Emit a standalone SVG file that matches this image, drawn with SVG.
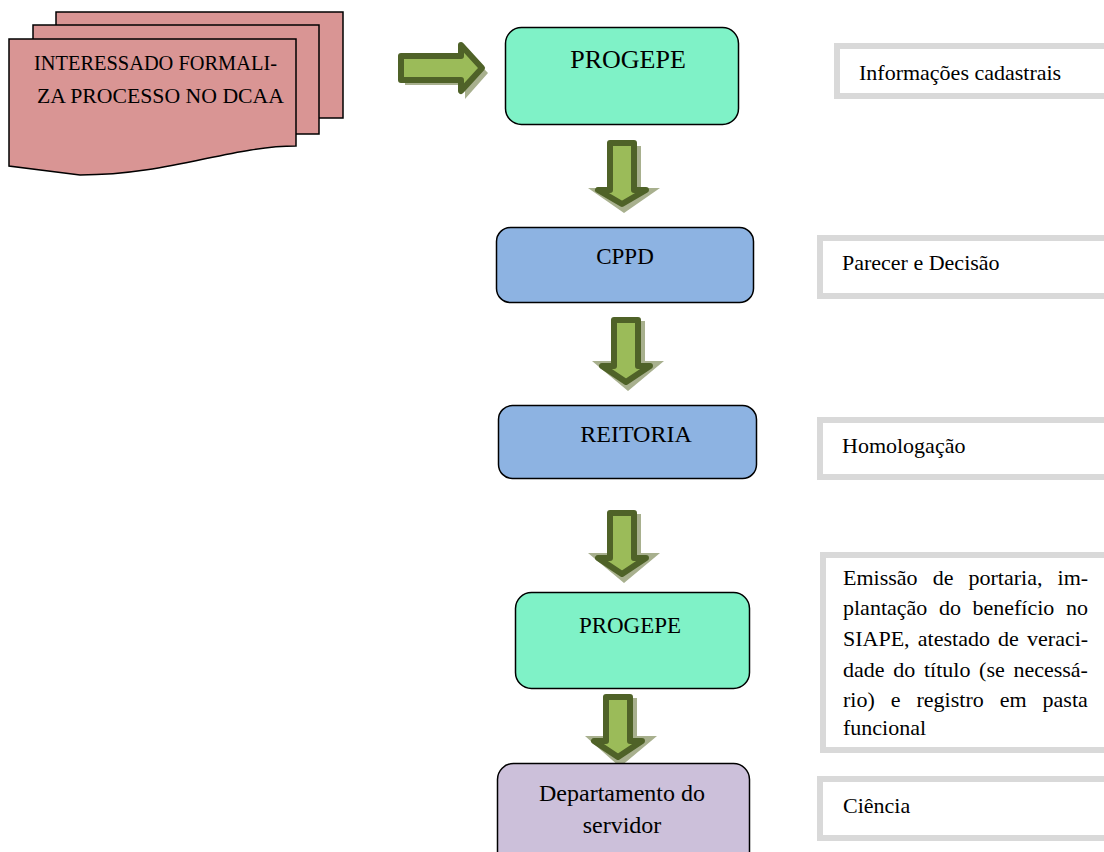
<svg xmlns="http://www.w3.org/2000/svg" width="1104" height="852" viewBox="0 0 1104 852" font-family="'Liberation Serif', 'DejaVu Serif', serif">
<style>
.sheet{fill:#d99594;stroke:#000;stroke-width:1.5}
.box{stroke:#000;stroke-width:1.5}
.green{fill:#7ff2c7}
.blue{fill:#8db3e2}
.lilac{fill:#ccc0da}
.note{fill:#fff;stroke:#d9d9d9;stroke-width:6}
.arr{fill:#9bbb59;stroke:#4f6228;stroke-width:6;stroke-linejoin:round}
.shd{fill:#a8b08e}
.nt{font-size:22px}
.mid{text-anchor:middle}
</style>
<rect width="1104" height="852" fill="#fff"/>

<g id="start">
<path class="sheet" d="M56,12 H343 V118 H56 Z"/>
<path class="sheet" d="M33,25 H319 V134 H33 Z"/>
<path class="sheet" d="M9,39 H296 V146 C230,146 170,175 80,175 L9,166 Z"/>
<text x="34" y="70" font-size="22" textLength="243" lengthAdjust="spacingAndGlyphs">INTERESSADO FORMALI-</text>
<text x="37" y="103" font-size="22" textLength="247" lengthAdjust="spacingAndGlyphs">ZA PROCESSO NO DCAA</text>
</g>

<g id="connectors">
<path class="shd" d="M405,63 H465 V49 L488,73 L465,99 V85 H405 Z"/>
<path class="arr" d="M401,56 H461 V45 L482,68 L461,91 V80 H401 Z"/>

<path class="shd" d="M612,146 H641 V188 H660 L624,213 L588,188 H612 Z"/>
<path class="arr" d="M610,143 H634 V190 H646 L622,204 L598,190 H610 Z"/>

<path class="shd" d="M616,321 H645 V361 H664 L628,391 L592,361 H616 Z"/>
<path class="arr" d="M614,320 H638 V366 H650 L626,382 L602,366 H614 Z"/>

<path class="shd" d="M612,514 H641 V553 H660 L624,583 L588,553 H612 Z"/>
<path class="arr" d="M610,513 H634 V558 H646 L622,574 L598,558 H610 Z"/>

<path class="shd" d="M608,698 H637 V736 H657 L620,767 L585,736 H608 Z"/>
<path class="arr" d="M606,697 H630 V741 H642 L618,757 L594,741 H606 Z"/>
</g>

<g id="progepe1">
<rect class="box green" x="505.5" y="27.5" width="233" height="97" rx="16"/>
<text class="mid" x="628" y="68" font-size="26">PROGEPE</text>
</g>
<g id="cppd">
<rect class="box blue" x="496.5" y="227.5" width="257" height="75" rx="14"/>
<text class="mid" x="625" y="264" font-size="23">CPPD</text>
</g>
<g id="reitoria">
<rect class="box blue" x="498.5" y="405.5" width="258" height="73" rx="14"/>
<text class="mid" x="636" y="442" font-size="24">REITORIA</text>
</g>
<g id="progepe2">
<rect class="box green" x="515.5" y="592.5" width="234" height="96" rx="16"/>
<text class="mid" x="630" y="633" font-size="23">PROGEPE</text>
</g>
<g id="departamento">
<rect class="box lilac" x="497.5" y="763.5" width="252" height="110" rx="16"/>
<text class="mid" x="622" y="801" font-size="24">Departamento do</text>
<text class="mid" x="622" y="833" font-size="24">servidor</text>
</g>

<g id="note1">
<rect class="note" x="837" y="46" width="300" height="50"/>
<text class="nt" x="859" y="80">Informações cadastrais</text>
</g>
<g id="note2">
<rect class="note" x="820" y="238" width="320" height="58"/>
<text class="nt" x="842" y="270">Parecer e Decisão</text>
</g>
<g id="note3">
<rect class="note" x="820" y="420" width="320" height="57"/>
<text class="nt" x="842" y="453">Homologação</text>
</g>
<g id="note4">
<rect class="note" x="823" y="555" width="320" height="195"/>
<text class="nt" x="843" y="585" word-spacing="9.6">Emissão de portaria, im-</text>
<text class="nt" x="843" y="615" word-spacing="6.1">plantação do benefício no</text>
<text class="nt" x="843" y="646" word-spacing="2.7">SIAPE, atestado de veraci-</text>
<text class="nt" x="843" y="677" word-spacing="3.2">dade do título (se necessá-</text>
<text class="nt" x="843" y="707" word-spacing="10.5">rio) e registro em pasta</text>
<text class="nt" x="843" y="735">funcional</text>
</g>
<g id="note5">
<rect class="note" x="820" y="779" width="320" height="59"/>
<text class="nt" x="843" y="813">Ciência</text>
</g>
</svg>
